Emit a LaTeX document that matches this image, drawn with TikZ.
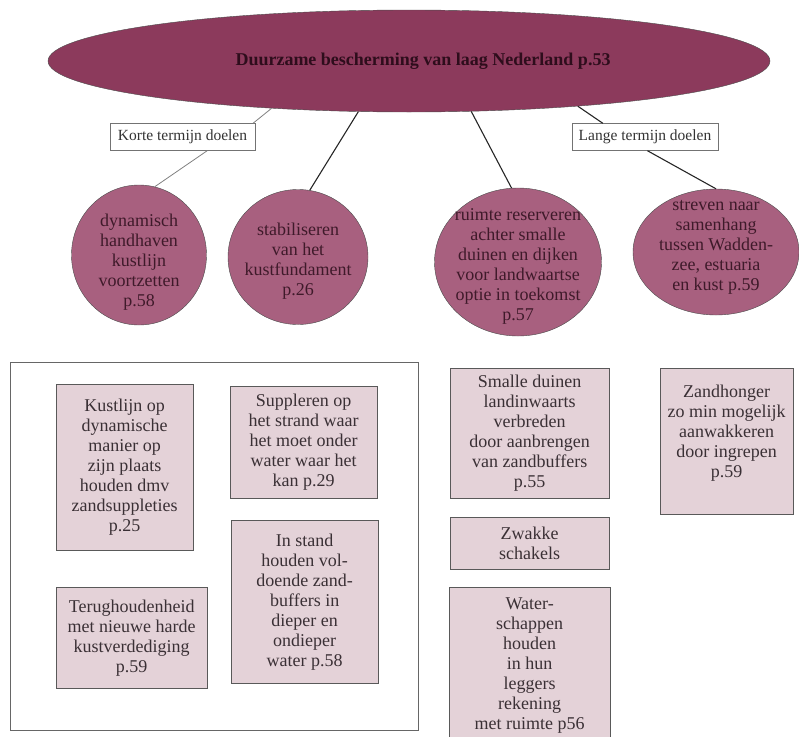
\documentclass[tikz,border=0pt]{standalone}
\usepackage{fontspec}
\setmainfont{Liberation Serif}
\usetikzlibrary{shapes.geometric,positioning}

\definecolor{topfill}{HTML}{8C3A5C}
\definecolor{goalfill}{HTML}{A8607F}
\definecolor{boxfill}{HTML}{E4D2D8}
\definecolor{toptext}{HTML}{2E0D1C}
\definecolor{goaltext}{HTML}{3F1A2A}
\definecolor{boxtext}{HTML}{3A3035}

\newcommand{\bodyfont}{\fontsize{18}{20}\selectfont}
\newcommand{\goallines}[2][-9pt]{\smash{\makebox[0pt]{\raisebox{#1}{\begin{tabular}{@{}c@{}}#2\end{tabular}}}}}

\begin{document}
\begin{tikzpicture}[
    x=1pt, y=-1pt,
    top/.style={ellipse, draw=black!70, fill=topfill, inner sep=0pt, minimum width=722pt, minimum height=102pt, font=\fontsize{18}{20}\selectfont\bfseries, text=toptext},
    goal/.style={ellipse, draw=black!70, fill=goalfill, inner sep=0pt, font=\bodyfont, text=goaltext},
    term/.style={rectangle, draw=black!55, fill=white, inner sep=0pt, minimum height=27pt, font=\fontsize{15.5}{17}\selectfont, text=black!80},
    measure/.style={rectangle, draw=black!65, fill=boxfill, inner sep=0pt, anchor=north west, align=center, font=\bodyfont, text=boxtext},
    link/.style={draw=black!85, line width=1.1pt},
    thinlink/.style={draw=black!50, line width=0.8pt}
]
\useasboundingbox (0,0) rectangle (799,736);

\node[top] (title) at (409,61) {\raisebox{-6pt}{\hspace*{28pt}Duurzame bescherming van laag Nederland p.53}};

\node[term, minimum width=145pt] (korte) at (182.5,137) {Korte termijn doelen};
\node[term, minimum width=146pt] (lange) at (645,137) {Lange termijn doelen};

\node[goal, minimum width=135pt, minimum height=140pt] (c1) at (139,255) {\goallines[-12pt]{dynamisch\\handhaven\\kustlijn\\voortzetten\\p.58}};
\node[goal, minimum width=140pt, minimum height=135pt] (c2) at (298,257) {\goallines{stabiliseren\\van het\\kustfundament\\p.26}};
\node[goal, minimum width=167pt, minimum height=148pt] (c3) at (518,262) {\goallines{ruimte reserveren\\achter smalle\\duinen en dijken\\voor landwaartse\\optie in toekomst\\p.57}};
\node[goal, minimum width=166pt, minimum height=126pt] (c4) at (716,252) {\goallines[1pt]{streven naar\\samenhang\\tussen Wadden-\\zee, estuaria\\en kust p.59}};

\draw[thinlink] (title.199) -- (korte.11);
\draw[thinlink] (korte.-29) -- (c1.77);
\draw[link] (title.225) -- (c2.80);
\draw[link] (title.-39) -- (c3.95);
\draw[link] (title.-15) -- (lange.162);
\draw[link] (lange.-80) -- (c4.north);

\draw[black!60, line width=0.9pt] (10,362) rectangle (418,730);

\node[measure, minimum width=137pt, minimum height=166pt] (kustlijn) at (56,384) {Kustlijn op\\dynamische\\manier op\\zijn plaats\\houden dmv\\zandsuppleties\\p.25};
\node[measure, minimum width=147pt, minimum height=112pt] (suppleren) at (230,386) {Suppleren op\\het strand waar\\het moet onder\\water waar het\\kan p.29};
\node[measure, minimum width=151pt, minimum height=101pt] (terug) at (56,587) {Terughoudenheid\\met nieuwe harde\\kustverdediging\\p.59};
\node[measure, minimum width=147pt, minimum height=163pt] (instand) at (231,520) {In stand\\houden vol-\\doende zand-\\buffers in\\dieper en\\ondieper\\water p.58};

\node[measure, minimum width=159pt, minimum height=130pt] (smalle) at (450,368) {Smalle duinen\\landinwaarts\\verbreden\\door aanbrengen\\van zandbuffers\\p.55};
\node[measure, minimum width=159pt, minimum height=52pt] (zwakke) at (450,517) {Zwakke\\schakels};
\node[measure, minimum width=161pt, minimum height=157pt] (water) at (449,587) {Water-\\schappen\\houden\\in hun\\leggers\\rekening\\met ruimte p56};
\node[measure, minimum width=133pt, minimum height=146pt, text depth=20pt] (zandhonger) at (660,368) {Zandhonger\\zo min mogelijk\\aanwakkeren\\door ingrepen\\p.59};

\end{tikzpicture}
\end{document}
